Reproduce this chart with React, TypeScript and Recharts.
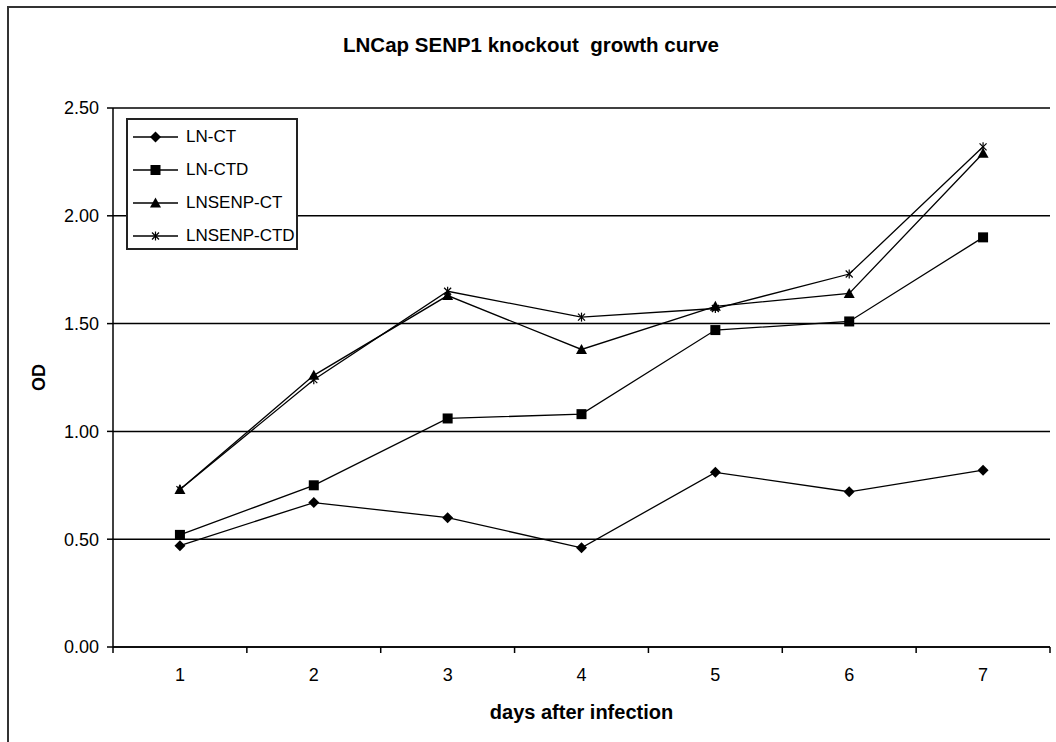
import React from "react";
import { LineChart, Line, XAxis, YAxis, CartesianGrid, Legend } from "recharts";

const days = [1, 2, 3, 4, 5, 6, 7];
const lnCT = [0.47, 0.67, 0.6, 0.46, 0.81, 0.72, 0.82];
const lnCTD = [0.52, 0.75, 1.06, 1.08, 1.47, 1.51, 1.9];
const lnSenpCT = [0.73, 1.26, 1.63, 1.38, 1.58, 1.64, 2.29];
const lnSenpCTD = [0.73, 1.24, 1.65, 1.53, 1.57, 1.73, 2.32];
const yTicks = [0, 0.5, 1, 1.5, 2, 2.5];
const xTicks = [0.5, 1, 1.5, 2, 2.5, 3, 3.5, 4, 4.5, 5, 5.5, 6, 6.5, 7, 7.5];
const seriesNames = ["LN-CT", "LN-CTD", "LNSENP-CT", "LNSENP-CTD"];
const titleText = "LNCap SENP1 knockout  growth curve";
const xLabel = "days after infection";
const yLabel = "OD";

const data = days.map((d, i) => ({
  day: d,
  a: lnCT[i],
  b: lnCTD[i],
  c: lnSenpCT[i],
  d: lnSenpCTD[i],
}));

const FONT = "'Liberation Sans', Arial, sans-serif";

type Shape = "diamond" | "square" | "triangle" | "star";
const shapes: Shape[] = ["diamond", "square", "triangle", "star"];

function Marker({ cx, cy, shape }: { cx: number; cy: number; shape: Shape }) {
  if (cx == null || cy == null) return null;
  if (shape === "diamond") {
    const r = 5.5;
    return <polygon points={`${cx},${cy - r} ${cx + r},${cy} ${cx},${cy + r} ${cx - r},${cy}`} fill="#000" />;
  }
  if (shape === "square") {
    const r = 5;
    return <rect x={cx - r} y={cy - r} width={2 * r} height={2 * r} fill="#000" />;
  }
  if (shape === "triangle") {
    const r = 5.5;
    return <polygon points={`${cx},${cy - r} ${cx + r},${cy + r - 1} ${cx - r},${cy + r - 1}`} fill="#000" />;
  }
  const r = 3.5;
  return (
    <g stroke="#000" strokeWidth={1.2}>
      <line x1={cx - r} y1={cy - r} x2={cx + r} y2={cy + r} />
      <line x1={cx - r} y1={cy + r} x2={cx + r} y2={cy - r} />
      <line x1={cx} y1={cy - r - 1} x2={cx} y2={cy + r + 1} />
    </g>
  );
}

const makeDot = (shape: Shape) => (props: any) => (
  <Marker key={`${shape}-${props.index}`} cx={props.cx} cy={props.cy} shape={shape} />
);

function XTick(props: any) {
  const { x, y, payload } = props;
  const v = payload.value;
  if (Math.abs(v - Math.round(v)) > 0.01) {
    return <line x1={x} y1={y} x2={x} y2={y + 6} stroke="#000" strokeWidth={1.5} />;
  }
  return (
    <text x={x} y={y + 34} textAnchor="middle" fontFamily={FONT} fontSize={18} fill="#000">
      {v}
    </text>
  );
}

function LegendBox(props: any) {
  const payload = props.payload || [];
  return (
    <div
      style={{
        width: 172,
        height: 132,
        boxSizing: "border-box",
        border: "2px solid #222",
        background: "#fff",
        paddingTop: 0,
      }}
    >
      {payload.map((p: any, i: number) => {
        const idx = seriesNames.indexOf(p.value);
        return (
          <div key={p.value} style={{ height: 33, display: "flex", alignItems: "center" }}>
            <svg width={56} height={20} style={{ display: "block" }}>
              <line x1={5} y1={10} x2={50} y2={10} stroke="#000" strokeWidth={1.3} />
              <Marker cx={27.5} cy={10} shape={shapes[idx >= 0 ? idx : i]} />
            </svg>
            <span style={{ fontFamily: FONT, fontSize: 17, color: "#000", marginLeft: 2 }}>{p.value}</span>
          </div>
        );
      })}
    </div>
  );
}

export default function App() {
  return (
    <div style={{ position: "absolute", left: 0, top: 0, width: 1056, height: 742, overflow: "hidden", background: "#fff" }}>
      <div
        style={{
          position: "absolute",
          left: 7,
          top: 6,
          width: 1200,
          height: 900,
          border: "2px solid #333",
          boxSizing: "border-box",
        }}
      />
      <div
        style={{
          position: "absolute",
          left: 0,
          top: 33,
          width: 1062,
          textAlign: "center",
          fontFamily: FONT,
          fontWeight: "bold",
          fontSize: 20.5,
          color: "#000",
          whiteSpace: "pre",
        }}
      >
        {titleText}
      </div>
      <div style={{ position: "absolute", left: 0, top: 0 }}>
        <LineChart width={1056} height={742} data={data} margin={{ top: 108, right: 6, left: 0, bottom: 0 }}>
          <CartesianGrid vertical={false} stroke="#000" strokeWidth={1.5} horizontalValues={yTicks} />
          <XAxis
            dataKey="day"
            type="number"
            domain={[0.5, 7.5]}
            ticks={xTicks}
            interval={0}
            height={95}
            tickLine={false}
            tickSize={0}
            tickMargin={0}
            axisLine={{ stroke: "#000", strokeWidth: 1.5 }}
            tick={<XTick />}
            allowDataOverflow
            label={(lp: any) => {
              const vb = lp.viewBox || {};
              return (
                <text
                  x={vb.x + vb.width / 2}
                  y={vb.y + 72}
                  textAnchor="middle"
                  fontFamily={FONT}
                  fontWeight="bold"
                  fontSize={20}
                  fill="#000"
                >
                  {xLabel}
                </text>
              );
            }}
          />
          <YAxis
            type="number"
            domain={[0, 2.5]}
            ticks={yTicks}
            interval={0}
            width={113}
            tickSize={6}
            tickMargin={8}
            tickLine={{ stroke: "#000", strokeWidth: 1.5 }}
            axisLine={{ stroke: "#000", strokeWidth: 1.5 }}
            tick={{ fontFamily: FONT, fontSize: 18, fill: "#000" }}
            tickFormatter={(v: number) => v.toFixed(2)}
            label={(lp: any) => {
              const vb = lp.viewBox || {};
              const cx = 39;
              const cy = vb.y + vb.height / 2;
              return (
                <text
                  x={cx}
                  y={cy}
                  transform={`rotate(-90 ${cx} ${cy})`}
                  textAnchor="middle"
                  dominantBaseline="central"
                  fontFamily={FONT}
                  fontWeight="bold"
                  fontSize={18}
                  fill="#000"
                >
                  {yLabel}
                </text>
              );
            }}
          />
          <Legend
            layout="vertical"
            align="center"
            verticalAlign="middle"
            content={<LegendBox />}
            wrapperStyle={{ left: 126, top: 118, width: 172, height: 132 }}
          />
          <Line dataKey="a" name={seriesNames[0]} stroke="#000" strokeWidth={1.3} dot={makeDot("diamond")} activeDot={false} isAnimationActive={false} legendType="line" />
          <Line dataKey="b" name={seriesNames[1]} stroke="#000" strokeWidth={1.3} dot={makeDot("square")} activeDot={false} isAnimationActive={false} legendType="line" />
          <Line dataKey="c" name={seriesNames[2]} stroke="#000" strokeWidth={1.3} dot={makeDot("triangle")} activeDot={false} isAnimationActive={false} legendType="line" />
          <Line dataKey="d" name={seriesNames[3]} stroke="#000" strokeWidth={1.3} dot={makeDot("star")} activeDot={false} isAnimationActive={false} legendType="line" />
        </LineChart>
      </div>
    </div>
  );
}
